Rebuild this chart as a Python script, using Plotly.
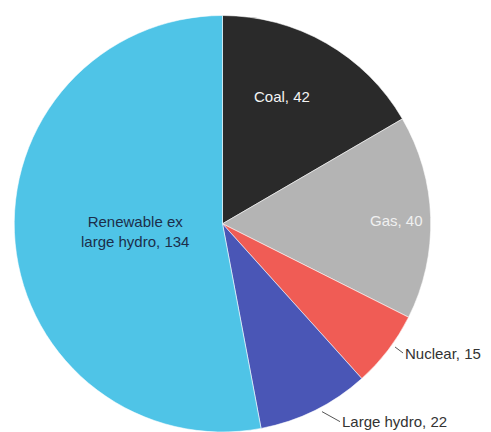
import math
import plotly.graph_objects as go

# ---- data ----
categories = ["Coal", "Gas", "Nuclear", "Large hydro", "Renewable ex large hydro"]
values = [42, 40, 15, 22, 134]
slice_labels = ["Coal, 42", "Gas, 40", "Nuclear, 15", "Large hydro, 22",
                "Renewable ex<br>large hydro, 134"]

# ---- style ----
colors = ["#2a2a2a", "#b4b4b4", "#f05c55", "#4a56b6", "#4fc4e7"]
text_colors = ["#f4f4f4", "#f0f0f0", "#333333", "#333333", "#1c2e4a"]
# label placement: (radius fraction, angle shift in degrees from slice middle)
label_polar = [(0.676, -4.9), (0.83, 0.1), (1.005, -2.2), (1.005, -1.8), (0.418, 1.4)]
outside = {2: (8, 6), 3: (18, 10)}   # leader-line offsets in px

OFF = 8            # default page body margin of the browser
W, H = 491 - OFF, 432 - OFF
FONT = "Liberation Sans, Arial, sans-serif"
FS = 15

# pie geometry in figure pixels (from top-left)
R = 210
cx = 222.5 - OFF
cy = 225.5 - OFF
dom_x = [(cx - R) / W, (cx + R) / W]
dom_y = [max(0.0, (H - cy - R) / H), (H - cy + R) / H]

fig = go.Figure(go.Pie(
    labels=categories,
    values=values,
    textinfo="none",
    sort=False,
    direction="clockwise",
    rotation=0,
    marker=dict(colors=colors, line=dict(color="rgba(255,255,255,0.55)", width=1)),
    domain=dict(x=dom_x, y=dom_y),
    hoverinfo="label+value",
    showlegend=False,
))

total = sum(values)
annotations = []
cum = 0
for i, v in enumerate(values):
    mid = (cum + v / 2) / total * 360
    cum += v
    rf, shift = label_polar[i]
    ang = math.radians(mid + shift)
    px = cx + R * rf * math.sin(ang)
    py = cy - R * rf * math.cos(ang)
    a = dict(x=px / W, y=(H - py) / H, xref="paper", yref="paper",
             text=slice_labels[i],
             font=dict(family=FONT, size=FS, color=text_colors[i]))
    if i in outside:
        ax, ay = outside[i]
        a.update(showarrow=True, arrowhead=0, arrowwidth=1, arrowcolor="#555555",
                 ax=ax, ay=ay, xanchor="left", yanchor="middle")
    else:
        a.update(showarrow=False, xanchor="center", yanchor="middle")
    annotations.append(a)

fig.update_layout(
    width=W, height=H,
    margin=dict(l=0, r=0, t=0, b=0),
    paper_bgcolor="white",
    annotations=annotations,
)

fig.write_html("out.html")
